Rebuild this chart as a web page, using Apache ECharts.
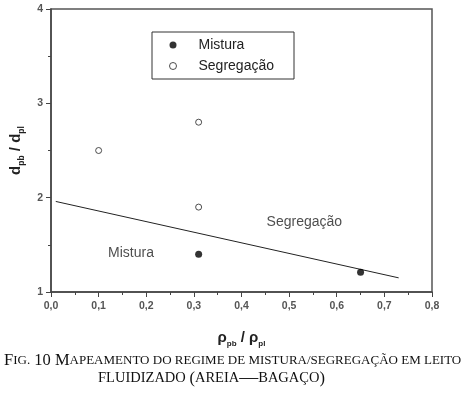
<!DOCTYPE html>
<html>
<head>
<meta charset="utf-8">
<script src="https://cdn.jsdelivr.net/npm/echarts@6/dist/echarts.min.js"></script>
<style>
  html, body { margin: 0; padding: 0; background: #fff; }
  #main { width: 466px; height: 396px; }
</style>
</head>
<body>
<div id="main"></div>
<script>
// dados
var misturaX = [0.31, 0.65];
var misturaY = [1.40, 1.21];
var segregX = [0.10, 0.31, 0.31];
var segregY = [2.50, 2.80, 1.90];
var linhaX = [0.01, 0.73];
var linhaY = [1.96, 1.15];
var rotulos = ['Mistura', 'Segregação'];
var rotulosX = [0.168, 0.532];
var rotulosY = [1.41, 1.74];

function pares(xs, ys) {
    var out = [];
    for (var i = 0; i < xs.length; i++) {
        out.push([xs[i], ys[i]]);
    }
    return out;
}

var eixoCor = '#444';
var sans = 'Liberation Sans, Arial, sans-serif';
var serif = 'Liberation Serif, Times New Roman, serif';

var legenda = {
    a: { fontFamily: serif, fontSize: 16.5, fontWeight: 'normal', color: '#111' },
    b: { fontFamily: serif, fontSize: 13, fontWeight: 'normal', color: '#111' },
    c: { fontFamily: serif, fontSize: 14.5, fontWeight: 'normal', color: '#111' },
    d: { fontFamily: serif, fontSize: 19, fontWeight: 'normal', color: '#111' }
};

var myChart = echarts.init(document.getElementById('main'));

myChart.setOption({
    animation: false,
    title: [{
        left: 4,
        top: 352,
        text: '{a|F}{b|IG.}{a| 10 M}{b|APEAMENTO DO REGIME DE MISTURA/SEGREGAÇÃO EM LEITO}',
        textStyle: { fontWeight: 'normal', rich: legenda },
        padding: 0
    }, {
        left: 98,
        top: 369,
        text: '{c|FLUIDIZADO }{a|(}{c|AREIA}{d|—}{c|BAGAÇO}{a|)}',
        textStyle: { fontWeight: 'normal', rich: legenda },
        padding: 0
    }],
    legend: {
        data: [
            { name: 'Mistura' },
            { name: 'Segregação', itemStyle: { color: '#fff', borderColor: '#222', borderWidth: 1 } }
        ],
        orient: 'vertical',
        left: 152,
        top: 32,
        padding: [6, 20, 6, 17],
        itemGap: 7,
        itemWidth: 7,
        itemHeight: 7,
        borderColor: '#333',
        borderWidth: 1,
        textStyle: {
            fontFamily: sans,
            fontSize: 14,
            color: '#222',
            padding: [0, 0, 0, 17]
        }
    },
    grid: {
        left: 51,
        right: 34,
        top: 9,
        bottom: 104,
        show: true,
        borderColor: '#555',
        borderWidth: 1.5
    },
    xAxis: {
        type: 'value',
        min: 0,
        max: 0.8,
        interval: 0.1,
        name: '{m|ρ}{s|pb}{m| / ρ}{s|pl}',
        nameLocation: 'middle',
        nameGap: 38,
        nameTextStyle: {
            rich: {
                m: { fontFamily: sans, fontSize: 15, fontWeight: 'bold', color: '#222' },
                s: { fontFamily: sans, fontSize: 8, fontWeight: 'bold', color: '#222', verticalAlign: 'bottom', padding: [0, 0, -3, 0] }
            }
        },
        axisLine: { lineStyle: { color: eixoCor, width: 1.5 } },
        axisTick: { show: true, inside: false, length: 5, lineStyle: { color: eixoCor } },
        minorTick: { show: true, splitNumber: 2, length: 3, lineStyle: { color: eixoCor } },
        splitLine: { show: false },
        axisLabel: {
            fontFamily: sans,
            fontSize: 10.5,
            fontWeight: 'bold',
            color: '#555',
            margin: 9,
            formatter: function (v) { return v.toFixed(1).replace('.', ','); }
        }
    },
    yAxis: {
        type: 'value',
        min: 1,
        max: 4,
        interval: 1,
        name: '{m|d}{s|pb}{m| / d}{s|pl}',
        nameLocation: 'middle',
        nameGap: 21,
        nameTextStyle: {
            rich: {
                m: { fontFamily: sans, fontSize: 15, fontWeight: 'bold', color: '#222' },
                s: { fontFamily: sans, fontSize: 8.5, fontWeight: 'bold', color: '#222', verticalAlign: 'bottom', padding: [0, 0, -3, 0] }
            }
        },
        axisLine: { lineStyle: { color: eixoCor, width: 1.5 } },
        axisTick: { show: true, inside: false, length: 5, lineStyle: { color: eixoCor } },
        minorTick: { show: true, splitNumber: 2, length: 3, lineStyle: { color: eixoCor } },
        splitLine: { show: false },
        axisLabel: {
            fontFamily: sans,
            fontSize: 10.5,
            fontWeight: 'bold',
            color: '#555',
            margin: 8
        }
    },
    series: [{
        name: 'Mistura',
        type: 'scatter',
        symbol: 'circle',
        symbolSize: 7,
        itemStyle: { color: '#000' },
        data: pares(misturaX, misturaY),
        z: 3
    }, {
        name: 'Segregação',
        type: 'scatter',
        symbol: 'circle',
        symbolSize: 6,
        itemStyle: { color: '#fff', borderColor: '#222', borderWidth: 1 },
        data: pares(segregX, segregY),
        z: 3
    }, {
        name: 'fronteira',
        type: 'line',
        symbol: 'none',
        lineStyle: { color: '#222', width: 1 },
        data: pares(linhaX, linhaY),
        z: 2
    }, {
        name: 'rotulos',
        type: 'scatter',
        symbolSize: 0,
        silent: true,
        label: {
            show: true,
            position: 'inside',
            fontFamily: sans,
            fontSize: 14,
            color: '#222',
            formatter: function (p) { return rotulos[p.dataIndex]; }
        },
        data: pares(rotulosX, rotulosY)
    }]
});
</script>
</body>
</html>
